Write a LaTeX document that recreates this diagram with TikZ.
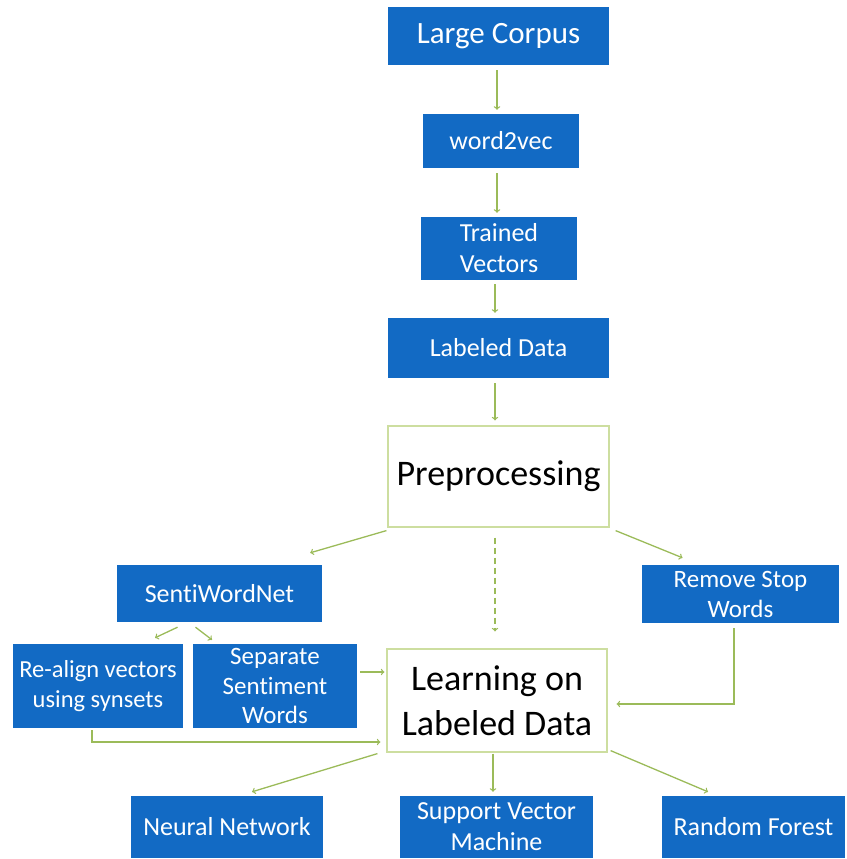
\documentclass[tikz,border=0pt]{standalone}
\usepackage{fontspec}
\setmainfont{Carlito}[Ligatures=NoCommon]
\usepackage{tikz}
\usetikzlibrary{arrows, positioning, calc}
\definecolor{boxblue}{RGB}{18,106,196}
\definecolor{arrgreen}{RGB}{155,187,89}
\definecolor{lightgreen}{RGB}{205,222,160}
\begin{document}
\begin{tikzpicture}[x=1pt, y=-1pt,
  bluebox/.style={rectangle, fill=boxblue, text=white, inner sep=0pt, align=center, font=\fontsize{26}{31}\selectfont},
  whitebox/.style={rectangle, draw=lightgreen, line width=1.2pt, fill=white, inner sep=0pt, align=center, font=\fontsize{36}{45}\selectfont},
  arr/.style={->, draw=arrgreen, line width=1.3pt}]
\useasboundingbox (0,0) rectangle (846,859);
% Pipeline
\node[bluebox, minimum width=221pt, minimum height=58pt, font=\fontsize{31}{37}\selectfont] (corpus) at (498.5,36) {Large Corpus};
\node[bluebox, minimum width=156pt, minimum height=54pt] (w2v) at (501,141) {word2vec};
\node[bluebox, minimum width=156pt, minimum height=63pt] (trained) at (499,248.5) {Trained\\Vectors};
\node[bluebox, minimum width=221pt, minimum height=60pt] (labeled) at (498.5,348) {Labeled Data};

\node[whitebox, minimum width=221pt, minimum height=101pt] (preproc) at (498.5,476.5) {Preprocessing};
\node[whitebox, minimum width=220pt, minimum height=103pt] (learning) at (497,700.5) {Learning on\\Labeled Data};

\node[bluebox, minimum width=205pt, minimum height=57pt] (swn) at (219.5,593.5) {SentiWordNet};
\node[bluebox, minimum width=170pt, minimum height=84pt, font=\fontsize{24.5}{30}\selectfont] (realign) at (98,686) {Re-align vectors\\using synsets};
\node[bluebox, minimum width=164pt, minimum height=84pt, font=\fontsize{25}{29.5}\selectfont] (separate) at (275,686) {Separate\\Sentiment\\Words};
\node[bluebox, minimum width=197pt, minimum height=58pt, font=\fontsize{25}{30}\selectfont] (stop) at (740.5,594) {Remove Stop\\Words};

\node[bluebox, minimum width=192pt, minimum height=62pt] (nn) at (227,827) {Neural Network};
\node[bluebox, minimum width=193pt, minimum height=62pt] (svm) at (496.5,827) {Support Vector\\Machine};
\node[bluebox, minimum width=183pt, minimum height=62pt] (rf) at (753.5,827) {Random Forest};

\draw[arr] ($(corpus.south)+(-1.5,5)$) -- ($(w2v.north)+(-4,-4)$);
\draw[arr] ($(w2v.south)+(-4,5)$) -- ($(trained.north)+(-2,-4)$);
\draw[arr] ($(trained.south)+(-4,4)$) -- ($(labeled.north)+(-3.5,-5)$);
\draw[arr] ($(labeled.south)+(-3.5,5)$) -- ($(preproc.north)+(-3.5,-5)$);

\draw[arr] ($(preproc.south west)+(-1,3)$) -- ($(swn.north east)+(-12,-12)$);
\draw[arr] ($(preproc.south east)+(6,3)$) -- ($(stop.north)+(-58,-7)$);
\draw[arr, dash pattern=on 6pt off 4pt] ($(preproc.south)+(-3.5,10)$) -- ($(learning.north)+(-2,-17)$);

\draw[arr] ($(swn.south)+(-42,5)$) -- ($(realign.north)+(57,-6)$);
\draw[arr] ($(swn.south)+(-24,5)$) -- ($(separate.north)+(-63,-4)$);

\draw[arr] ($(separate.east)+(3,-14)$) -- ($(learning.west)+(-2,-28.5)$);
\draw[arr] ($(realign.south)+(-6,2)$) |- ($(learning.west)+(-6,41.5)$);
\draw[arr] ($(stop.south)+(-6.5,5)$) |- ($(learning.east)+(9,3.5)$);

\draw[arr] ($(learning.south west)+(-9,1)$) -- ($(nn.north)+(25,-4)$);
\draw[arr] ($(learning.south)+(-4,1)$) -- ($(svm.north)+(-3.5,-4)$);
\draw[arr] ($(learning.south east)+(3,-2)$) -- ($(rf.north)+(-45.5,-4)$);
\end{tikzpicture}
\end{document}
